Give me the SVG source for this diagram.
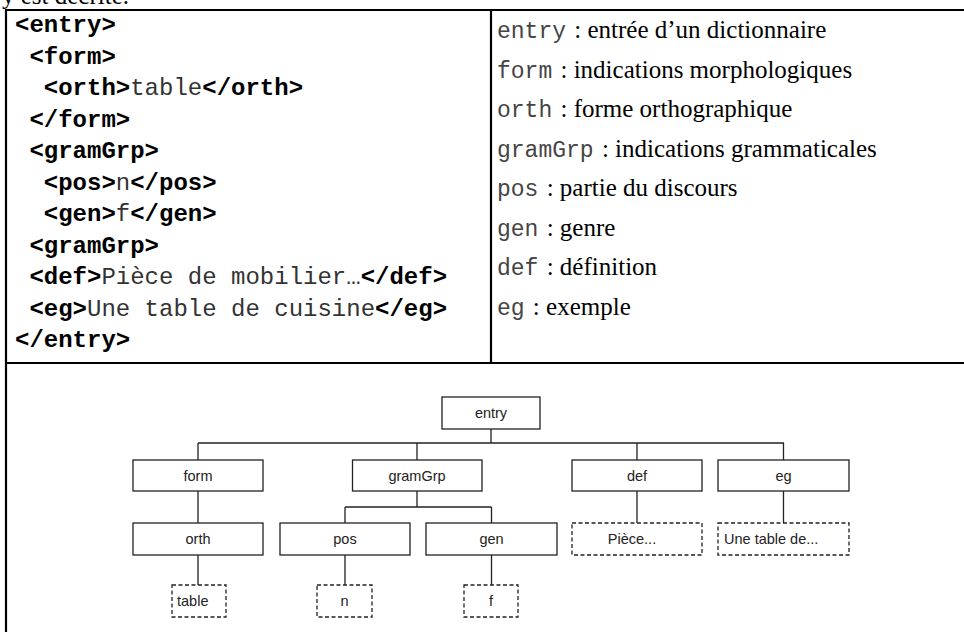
<svg xmlns="http://www.w3.org/2000/svg" width="964" height="632" viewBox="0 0 964 632">
<style>
.frame{stroke:#000;stroke-width:2.2;fill:none}
.code{font-family:"Liberation Mono","Courier New",monospace;font-size:24px;fill:#000}
.tag{font-weight:bold}
.val{font-weight:normal;fill:#333}
.mono{font-family:"Liberation Mono","Courier New",monospace;font-size:23px;fill:#444}
.serif{font-family:"Liberation Serif","Times New Roman",serif;font-size:25px;fill:#000}
.box{fill:#fff;stroke:#222;stroke-width:1.3}
.dash{fill:#fff;stroke:#222;stroke-width:1.3;stroke-dasharray:4 2.5}
.lbl{font-family:"Liberation Sans",Arial,sans-serif;font-size:14.5px;fill:#222;text-anchor:middle}
.lbls{font-family:"Liberation Sans",Arial,sans-serif;font-size:14.5px;fill:#222;text-anchor:start}
.conn{stroke:#222;stroke-width:1.3;fill:none}
</style>
<rect width="964" height="632" fill="#fff"/>
<text x="2" y="4" class="serif" font-size="26">y est décrite.</text>
<g id="table">
<line class="frame" x1="5" y1="10" x2="970" y2="10"/>
<line class="frame" x1="6" y1="9" x2="6" y2="640"/>
<line class="frame" x1="491" y1="10" x2="491" y2="363"/>
<line class="frame" x1="5" y1="363" x2="970" y2="363"/>
</g>
<g id="xml-code" class="code">
<text x="15" y="32" class="tag">&lt;entry&gt;</text>
<text x="29.4" y="63.5" class="tag">&lt;form&gt;</text>
<text x="43.8" y="95" class="tag">&lt;orth&gt;<tspan class="val">table</tspan>&lt;/orth&gt;</text>
<text x="29.4" y="126.5" class="tag">&lt;/form&gt;</text>
<text x="29.4" y="158" class="tag">&lt;gramGrp&gt;</text>
<text x="43.8" y="189.5" class="tag">&lt;pos&gt;<tspan class="val">n</tspan>&lt;/pos&gt;</text>
<text x="43.8" y="221" class="tag">&lt;gen&gt;<tspan class="val">f</tspan>&lt;/gen&gt;</text>
<text x="29.4" y="252.5" class="tag">&lt;gramGrp&gt;</text>
<text x="29.4" y="284" class="tag">&lt;def&gt;<tspan class="val">Pièce de mobilier…</tspan>&lt;/def&gt;</text>
<text x="29.4" y="315.5" class="tag">&lt;eg&gt;<tspan class="val">Une table de cuisine</tspan>&lt;/eg&gt;</text>
<text x="15" y="347" class="tag">&lt;/entry&gt;</text>
</g>
<g id="legend">
<text x="497" y="38"><tspan class="mono">entry</tspan><tspan class="serif" dx="2"> : entrée d’un dictionnaire</tspan></text>
<text x="497" y="77.5"><tspan class="mono">form</tspan><tspan class="serif" dx="2"> : indications morphologiques</tspan></text>
<text x="497" y="117"><tspan class="mono">orth</tspan><tspan class="serif" dx="2"> : forme orthographique</tspan></text>
<text x="497" y="156.5"><tspan class="mono">gramGrp</tspan><tspan class="serif" dx="2"> : indications grammaticales</tspan></text>
<text x="497" y="196"><tspan class="mono">pos</tspan><tspan class="serif" dx="2"> : partie du discours</tspan></text>
<text x="497" y="235.5"><tspan class="mono">gen</tspan><tspan class="serif" dx="2"> : genre</tspan></text>
<text x="497" y="275"><tspan class="mono">def</tspan><tspan class="serif" dx="2"> : définition</tspan></text>
<text x="497" y="314.5"><tspan class="mono">eg</tspan><tspan class="serif" dx="2"> : exemple</tspan></text>
</g>
<g id="connectors">
<path class="conn" d="M491 429V443M198 443H784M198 443V460M417 443V460M637 443V460M783.5 443V460"/>
<path class="conn" d="M198 491V523M417 491V507M345 507H491.5M345 507V523M491.5 507V523M637 491V523M783.5 491V523"/>
<path class="conn" d="M198 555V585M345 555V585M491.5 555V585"/>
</g>
<g id="n-entry"><rect class="box" x="442" y="397" width="98" height="32"/><text class="lbl" x="491" y="418">entry</text></g>
<g id="n-form"><rect class="box" x="133" y="460" width="130" height="31"/><text class="lbl" x="198" y="481">form</text></g>
<g id="n-gramGrp"><rect class="box" x="352.5" y="460" width="129.5" height="31"/><text class="lbl" x="417" y="481">gramGrp</text></g>
<g id="n-def"><rect class="box" x="572" y="460" width="130" height="31"/><text class="lbl" x="637" y="481">def</text></g>
<g id="n-eg"><rect class="box" x="718" y="460" width="131" height="31"/><text class="lbl" x="783.5" y="481">eg</text></g>
<g id="n-orth"><rect class="box" x="133" y="523" width="130" height="32"/><text class="lbl" x="198" y="544">orth</text></g>
<g id="n-pos"><rect class="box" x="280" y="523" width="130" height="32"/><text class="lbl" x="345" y="544">pos</text></g>
<g id="n-gen"><rect class="box" x="426" y="523" width="131" height="32"/><text class="lbl" x="491.5" y="544">gen</text></g>
<g id="n-piece"><rect class="dash" x="572" y="523" width="130" height="32"/><text class="lbl" x="632" y="544">Pièce...</text></g>
<g id="n-unetable"><rect class="dash" x="718" y="523" width="131" height="32"/><text class="lbls" x="724" y="544">Une table de...</text></g>
<g id="n-table"><rect class="dash" x="172" y="585" width="54" height="32"/><text class="lbls" x="177" y="606">table</text></g>
<g id="n-n"><rect class="dash" x="317" y="585" width="55" height="32"/><text class="lbl" x="344.5" y="606">n</text></g>
<g id="n-f"><rect class="dash" x="464" y="585" width="54" height="32"/><text class="lbl" x="491" y="606">f</text></g>
</svg>
